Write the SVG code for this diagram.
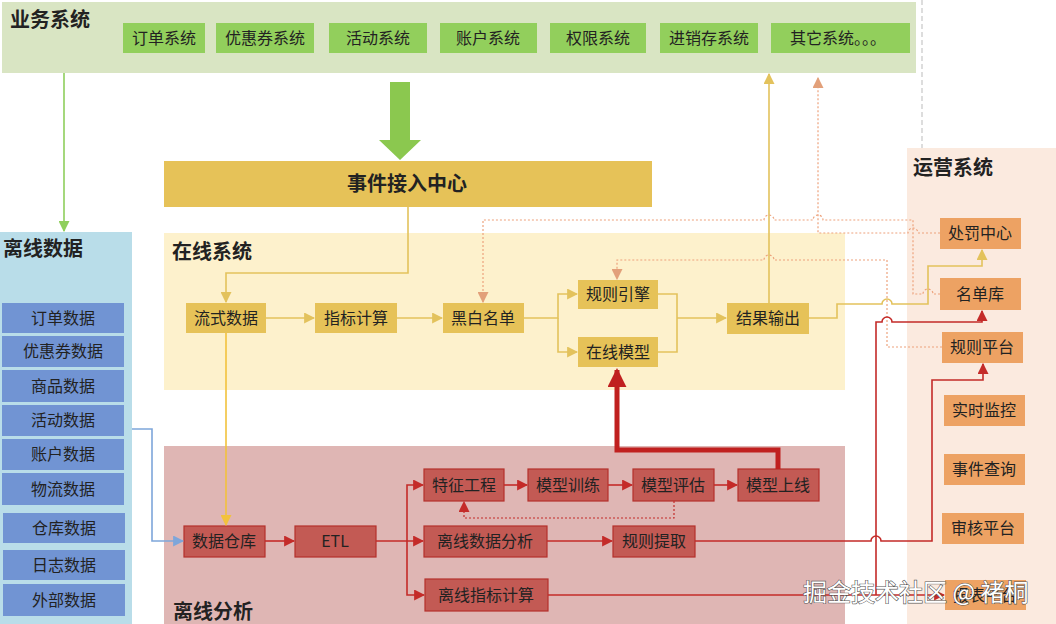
<svg xmlns="http://www.w3.org/2000/svg" width="1056" height="624" viewBox="0 0 1056 624">
<style>
text{font-family:"Noto Sans CJK SC","Noto Sans",sans-serif;fill:#222;}
.title{font-size:20px;font-weight:bold;}
.lbl{font-size:16px;text-anchor:middle;}
.g{fill:#92cf5c;}
.y{fill:#e6c258;}
.b{fill:#7194d3;}
.r{fill:#c35a54;stroke:#b5302c;stroke-width:1.2;}
.o{fill:#eda263;}
.ly{fill:none;stroke:#e3c25c;stroke-width:1.6;}
.ly2{fill:none;stroke:#f2c23c;stroke-width:1.6;}
.lr{fill:none;stroke:#c42b29;stroke-width:1.6;}
.ld{fill:none;stroke:#eda27c;stroke-width:1.2;stroke-dasharray:2 2;}
.ldr{fill:none;stroke:#c42b29;stroke-width:1.2;stroke-dasharray:2 2;}
</style>
<defs>
<marker id="aY" viewBox="0 0 10 10" refX="9" refY="5" markerWidth="11" markerHeight="11" markerUnits="userSpaceOnUse" orient="auto"><path d="M0,0 L10,5 L0,10 z" fill="#e3c25c"/></marker>
<marker id="aY2" viewBox="0 0 10 10" refX="9" refY="5" markerWidth="11" markerHeight="11" markerUnits="userSpaceOnUse" orient="auto"><path d="M0,0 L10,5 L0,10 z" fill="#f2c23c"/></marker>
<marker id="aR" viewBox="0 0 10 10" refX="9" refY="5" markerWidth="11" markerHeight="11" markerUnits="userSpaceOnUse" orient="auto"><path d="M0,0 L10,5 L0,10 z" fill="#c42b29"/></marker>
<marker id="aRb" viewBox="0 0 10 10" refX="9" refY="5" markerWidth="19" markerHeight="19" markerUnits="userSpaceOnUse" orient="auto"><path d="M0,0 L10,5 L0,10 z" fill="#c0201f"/></marker>
<marker id="aB" viewBox="0 0 10 10" refX="9" refY="5" markerWidth="11" markerHeight="11" markerUnits="userSpaceOnUse" orient="auto"><path d="M0,0 L10,5 L0,10 z" fill="#7ea6da"/></marker>
<marker id="aG" viewBox="0 0 10 10" refX="9" refY="5" markerWidth="11" markerHeight="11" markerUnits="userSpaceOnUse" orient="auto"><path d="M0,0 L10,5 L0,10 z" fill="#8fcf5c"/></marker>
<marker id="aD" viewBox="0 0 10 10" refX="9" refY="5" markerWidth="11" markerHeight="11" markerUnits="userSpaceOnUse" orient="auto"><path d="M0,0 L10,5 L0,10 z" fill="#e2a07a"/></marker>
</defs>

<!-- panels -->
<g id="panels">
<rect x="2" y="2" width="914" height="71" fill="#d9e5c3"/>
<line x1="922" y1="0" x2="922" y2="148" stroke="#bbb" stroke-width="1" stroke-dasharray="5 3"/>
<rect x="907" y="148" width="149" height="476" fill="#fbeadf"/>
<rect x="0" y="232" width="132" height="392" fill="#b9dde9"/>
<rect x="164" y="233" width="681" height="157" fill="#fdf1cc"/>
<rect x="164" y="446" width="681" height="178" fill="#dfb6b4"/>
<text class="title" x="10" y="27">业务系统</text>
<text class="title" x="172" y="259">在线系统</text>
<text class="title" x="3" y="256">离线数据</text>
<text class="title" x="913" y="175">运营系统</text>
<text class="title" x="173" y="619">离线分析</text>
</g>

<!-- business systems -->
<g id="biz-order"><rect class="g" x="123" y="23" width="82" height="30"/><text class="lbl" x="164" y="44">订单系统</text></g>
<g id="biz-coupon"><rect class="g" x="216" y="23" width="98" height="30"/><text class="lbl" x="265" y="44">优惠券系统</text></g>
<g id="biz-activity"><rect class="g" x="329" y="23" width="98" height="30"/><text class="lbl" x="378" y="44">活动系统</text></g>
<g id="biz-account"><rect class="g" x="440" y="23" width="97" height="30"/><text class="lbl" x="488" y="44">账户系统</text></g>
<g id="biz-auth"><rect class="g" x="550" y="23" width="96" height="30"/><text class="lbl" x="598" y="44">权限系统</text></g>
<g id="biz-inv"><rect class="g" x="660" y="23" width="98" height="30"/><text class="lbl" x="709" y="44">进销存系统</text></g>
<g id="biz-other"><rect class="g" x="771" y="23" width="139" height="30"/><text class="lbl" x="838" y="44">其它系统。。。</text></g>

<!-- event center -->
<g id="event-center"><rect class="y" x="164" y="161" width="488" height="46"/><text x="407" y="191" style="font-size:20px;font-weight:bold;text-anchor:middle">事件接入中心</text></g>

<!-- online -->
<g id="on-stream"><rect class="y" x="186" y="303" width="80" height="30"/><text class="lbl" x="226" y="324">流式数据</text></g>
<g id="on-metric"><rect class="y" x="315" y="303" width="82" height="30"/><text class="lbl" x="356" y="324">指标计算</text></g>
<g id="on-bw"><rect class="y" x="443" y="303" width="81" height="30"/><text class="lbl" x="483" y="324">黑白名单</text></g>
<g id="on-rule"><rect class="y" x="578" y="280" width="80" height="29"/><text class="lbl" x="618" y="300">规则引擎</text></g>
<g id="on-model"><rect class="y" x="578" y="337" width="80" height="30"/><text class="lbl" x="618" y="358">在线模型</text></g>
<g id="on-result"><rect class="y" x="727" y="303" width="82" height="31"/><text class="lbl" x="768" y="324">结果输出</text></g>

<!-- offline data -->
<g id="od-order"><rect class="b" x="2" y="303" width="122" height="30"/><text class="lbl" x="63" y="324">订单数据</text></g>
<g id="od-coupon"><rect class="b" x="2" y="336" width="122" height="31"/><text class="lbl" x="63" y="357">优惠券数据</text></g>
<g id="od-goods"><rect class="b" x="2" y="370" width="122" height="32"/><text class="lbl" x="63" y="392">商品数据</text></g>
<g id="od-activity"><rect class="b" x="2" y="405" width="122" height="31"/><text class="lbl" x="63" y="426">活动数据</text></g>
<g id="od-account"><rect class="b" x="2" y="439" width="122" height="31"/><text class="lbl" x="63" y="460">账户数据</text></g>
<g id="od-logistics"><rect class="b" x="2" y="473" width="122" height="32"/><text class="lbl" x="63" y="495">物流数据</text></g>
<g id="od-warehouse"><rect class="b" x="3" y="513" width="122" height="30"/><text class="lbl" x="64" y="534">仓库数据</text></g>
<g id="od-log"><rect class="b" x="3" y="550" width="122" height="30"/><text class="lbl" x="64" y="571">日志数据</text></g>
<g id="od-external"><rect class="b" x="3" y="584" width="122" height="32"/><text class="lbl" x="64" y="606">外部数据</text></g>

<!-- offline analysis -->
<g id="off-dw"><rect class="r" x="184" y="526" width="81" height="31"/><text class="lbl" x="224" y="547">数据仓库</text></g>
<g id="off-etl"><rect class="r" x="295" y="526" width="81" height="31"/><text class="lbl" x="335" y="547">ETL</text></g>
<g id="off-feat"><rect class="r" x="424" y="469" width="80" height="32"/><text class="lbl" x="464" y="491">特征工程</text></g>
<g id="off-train"><rect class="r" x="528" y="469" width="80" height="32"/><text class="lbl" x="568" y="491">模型训练</text></g>
<g id="off-eval"><rect class="r" x="633" y="469" width="81" height="32"/><text class="lbl" x="673" y="491">模型评估</text></g>
<g id="off-deploy"><rect class="r" x="738" y="469" width="81" height="32"/><text class="lbl" x="778" y="491">模型上线</text></g>
<g id="off-analysis"><rect class="r" x="424" y="526" width="123" height="31"/><text class="lbl" x="485" y="547">离线数据分析</text></g>
<g id="off-ruleext"><rect class="r" x="613" y="526" width="82" height="31"/><text class="lbl" x="654" y="547">规则提取</text></g>
<g id="off-metric"><rect class="r" x="425" y="579" width="123" height="32"/><text class="lbl" x="486" y="601">离线指标计算</text></g>

<!-- ops -->
<g id="ops-punish"><rect class="o" x="940" y="218" width="81" height="31"/><text class="lbl" x="980" y="239">处罚中心</text></g>
<g id="ops-list"><rect class="o" x="940" y="278" width="81" height="32"/><text class="lbl" x="980" y="300">名单库</text></g>
<g id="ops-ruleplat"><rect class="o" x="942" y="332" width="81" height="31"/><text class="lbl" x="982" y="353">规则平台</text></g>
<g id="ops-monitor"><rect class="o" x="944" y="395" width="81" height="31"/><text class="lbl" x="984" y="416">实时监控</text></g>
<g id="ops-query"><rect class="o" x="944" y="454" width="81" height="31"/><text class="lbl" x="984" y="475">事件查询</text></g>
<g id="ops-audit"><rect class="o" x="942" y="513" width="82" height="31"/><text class="lbl" x="983" y="534">审核平台</text></g>
<g id="ops-report"><rect class="o" x="945" y="580" width="81" height="30"/><text class="lbl" x="985" y="601">报表平台</text></g>

<!-- connectors -->
<g id="connectors">
<polygon points="390,82 410,82 410,140 421,140 400,160 379,140 390,140" fill="#8bc84f"/>
<path class="ly" d="M64 73 V231" style="stroke:#8fcf5c" marker-end="url(#aG)"/>
<path class="ly" d="M408 207 V273 H226 V302" marker-end="url(#aY)"/>
<path class="ly" d="M266 318 H314" marker-end="url(#aY)"/>
<path class="ly" d="M397 318 H442" marker-end="url(#aY)"/>
<path class="ly" d="M524 318 H558 V294 H577" marker-end="url(#aY)"/>
<path class="ly" d="M558 318 V352 H577" marker-end="url(#aY)"/>
<path class="ly" d="M658 294 H677 V352 H658"/>
<path class="ly" d="M677 318 H726" marker-end="url(#aY)"/>
<path class="ly" d="M769 303 V74" marker-end="url(#aY)"/>
<path class="ly" d="M809 318 H837 V304 H882 a5 5 0 0 1 10 0 H928 V266 H982 V250" marker-end="url(#aY)"/>
<path class="ly2" d="M226 333 V525" marker-end="url(#aY2)"/>
<path class="ly" style="stroke:#7ea6da" d="M132 429 H152 V541 H183" marker-end="url(#aB)"/>

<path class="ld" d="M940 294 H933 a5 5 0 0 0 -10 0 H913 V220 H823 a5 5 0 0 0 -10 0 H774 a5 5 0 0 0 -10 0 H483 V302" marker-end="url(#aD)"/>
<path class="ld" d="M940 233 H918 a5 5 0 0 0 -10 0 H818 V78" marker-end="url(#aD)"/>
<path class="ld" d="M942 347 H887 V260 H774 a5 5 0 0 0 -10 0 H617 V279" marker-end="url(#aD)"/>

<path class="lr" d="M265 541 H294" marker-end="url(#aR)"/>
<path class="lr" d="M376 541 H423" marker-end="url(#aR)"/>
<path class="lr" d="M407 541 V485 H423" marker-end="url(#aR)"/>
<path class="lr" d="M407 541 V595 H424" marker-end="url(#aR)"/>
<path class="lr" d="M504 485 H527" marker-end="url(#aR)"/>
<path class="lr" d="M608 485 H632" marker-end="url(#aR)"/>
<path class="lr" d="M714 485 H737" marker-end="url(#aR)"/>
<path class="lr" d="M547 541 H612" marker-end="url(#aR)"/>
<path class="ldr" d="M674 501 V518 H464 V502" marker-end="url(#aR)"/>
<path class="lr" d="M695 541 H871 a5 5 0 0 1 10 0 H932 V380 H983 V364" marker-end="url(#aR)"/>
<path class="lr" d="M548 595 H944" marker-end="url(#aR)"/>
<path class="lr" d="M876 595 V322 H882 a5 5 0 0 1 10 0 H982 V311" marker-end="url(#aR)"/>
<path d="M778 469 V450 H617 V370" fill="none" stroke="#c0201f" stroke-width="5" marker-end="url(#aRb)"/>
</g>

<text x="803" y="601" style="font-size:24px;fill:#fff;stroke:#555;stroke-width:1.2;paint-order:stroke">掘金技术社区 @ 褚桐</text>
</svg>
